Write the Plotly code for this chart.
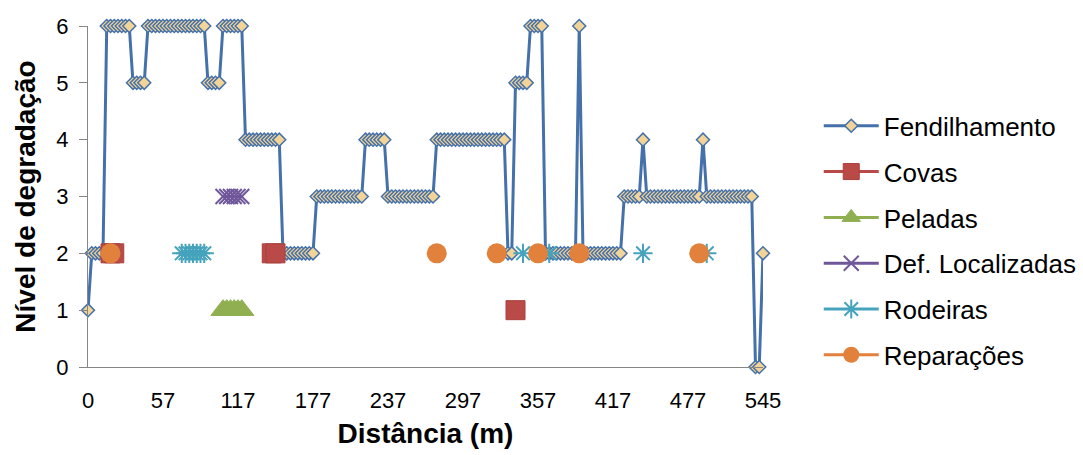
import plotly.graph_objects as go

# ---------------- data ----------------
tick_positions = [0, 20, 40, 60, 80, 100, 120, 140, 160, 180]
tick_labels = ["0", "57", "117", "177", "237", "297", "357", "417", "477", "545"]

# Fendilhamento: one value per distance category (181 categories)
fendilhamento = [
    1, 2, 2, 2, 2, 6, 6, 6, 6, 6,
    6, 6, 5, 5, 5, 5, 6, 6, 6, 6,
    6, 6, 6, 6, 6, 6, 6, 6, 6, 6,
    6, 6, 5, 5, 5, 5, 6, 6, 6, 6,
    6, 6, 4, 4, 4, 4, 4, 4, 4, 4,
    4, 4, 2, 2, 2, 2, 2, 2, 2, 2,
    2, 3, 3, 3, 3, 3, 3, 3, 3, 3,
    3, 3, 3, 3, 4, 4, 4, 4, 4, 4,
    3, 3, 3, 3, 3, 3, 3, 3, 3, 3,
    3, 3, 3, 4, 4, 4, 4, 4, 4, 4,
    4, 4, 4, 4, 4, 4, 4, 4, 4, 4,
    4, 4, 2, 2, 5, 5, 5, 5, 6, 6,
    6, 6, 2, 2, 2, 2, 2, 2, 2, 2,
    2, 6, 2, 2, 2, 2, 2, 2, 2, 2,
    2, 2, 2, 3, 3, 3, 3, 3, 4, 3,
    3, 3, 3, 3, 3, 3, 3, 3, 3, 3,
    3, 3, 3, 3, 4, 3, 3, 3, 3, 3,
    3, 3, 3, 3, 3, 3, 3, 3, 0, 0,
    2,
]

# other defects: category index -> level
covas_idx = [6, 7, 49, 50, 114]
covas_val = [2, 2, 2, 2, 1]

peladas_idx = [36, 37, 38, 39, 40, 41]
peladas_val = [1, 1, 1, 1, 1, 1]

defloc_idx = [36, 37, 38, 39, 40, 41]
defloc_val = [3, 3, 3, 3, 3, 3]

rodeiras_idx = [25, 26, 27, 28, 29, 30, 31, 116, 123, 148, 165]
rodeiras_val = [2, 2, 2, 2, 2, 2, 2, 2, 2, 2, 2]

reparacoes_idx = [6, 93, 109, 120, 131, 163]
reparacoes_val = [2, 2, 2, 2, 2, 2]

# ---------------- build ----------------
N = len(fendilhamento)
x_all = list(range(N))


def expand(idx, val):
    y = [None] * N
    for i, v in zip(idx, val):
        y[i] = v
    return y


FONT = "Liberation Sans, Arial, sans-serif"

fig = go.Figure()

fig.add_trace(go.Scatter(
    x=x_all, y=fendilhamento, name="Fendilhamento", mode="lines+markers",
    line=dict(color="#4471AA", width=3),
    marker=dict(symbol="diamond", size=10, color="#F2D398",
                line=dict(color="#4471AA", width=1.5)),
    cliponaxis=False, legendgroup="a",
))

fig.add_trace(go.Scatter(
    x=x_all, y=expand(covas_idx, covas_val), name="Covas", mode="lines+markers",
    line=dict(color="#B94A47", width=3),
    marker=dict(symbol="square", size=19, color="#B94A47",
                line=dict(color="#A8403D", width=1)),
    cliponaxis=False, legendgroup="b", connectgaps=False,
))

fig.add_trace(go.Scatter(
    x=x_all, y=expand(peladas_idx, peladas_val), name="Peladas", mode="lines+markers",
    line=dict(color="#8FAF50", width=3),
    marker=dict(symbol="triangle-up", size=21, color="#8FAF50",
                line=dict(color="#8FAF50", width=1)),
    cliponaxis=False, legendgroup="c", connectgaps=False,
))

fig.add_trace(go.Scatter(
    x=x_all, y=expand(defloc_idx, defloc_val), name="Def. Localizadas", mode="lines+markers",
    line=dict(color="#70579A", width=3),
    marker=dict(symbol="x-thin", size=15, color="#70579A",
                line=dict(color="#70579A", width=2)),
    cliponaxis=False, legendgroup="d", connectgaps=False,
))

fig.add_trace(go.Scatter(
    x=x_all, y=expand(rodeiras_idx, rodeiras_val), name="Rodeiras", mode="lines+markers",
    line=dict(color="#45A3BC", width=3),
    marker=dict(symbol="asterisk-open", size=16, color="#45A3BC",
                line=dict(color="#45A3BC", width=2)),
    cliponaxis=False, legendgroup="e", connectgaps=False,
))

fig.add_trace(go.Scatter(
    x=x_all, y=expand(reparacoes_idx, reparacoes_val), name="Reparações", mode="lines+markers",
    line=dict(color="#E2813B", width=3),
    marker=dict(symbol="circle", size=20, color="#E2813B",
                line=dict(color="#E2813B", width=0)),
    cliponaxis=False, legendgroup="f", connectgaps=False,
))

fig.update_layout(
    width=1083, height=455,
    margin=dict(l=88, r=320, t=26, b=86),
    paper_bgcolor="white", plot_bgcolor="white",
    font=dict(family=FONT, color="black", size=22),
    showlegend=True,
    legend=dict(
        xref="container", yref="container",
        x=0.756, y=0.775, xanchor="left", yanchor="top",
        font=dict(family=FONT, size=26, color="black"),
        tracegroupgap=9, bgcolor="rgba(0,0,0,0)",
        itemwidth=55, maxheight=420,
    ),
    xaxis=dict(
        range=[0, 180], tickmode="array", tickvals=tick_positions, ticktext=tick_labels,
        showline=True, linecolor="#868686", linewidth=1, ticks="",
        showgrid=False, zeroline=False, tickfont=dict(size=22),
        ticklabelstandoff=14,
        title=dict(text="<b>Distância (m)</b>", font=dict(size=28), standoff=10),
    ),
    yaxis=dict(
        range=[0, 6], tickmode="linear", tick0=0, dtick=1,
        showline=True, linecolor="#868686", linewidth=1,
        ticks="outside", ticklen=8, tickcolor="#868686",
        showgrid=False, zeroline=False, tickfont=dict(size=22),
        ticklabelstandoff=6,
        title=dict(text="<b>Nível de degradação</b>", font=dict(size=28), standoff=12),
    ),
)

fig.write_html("out.html")
